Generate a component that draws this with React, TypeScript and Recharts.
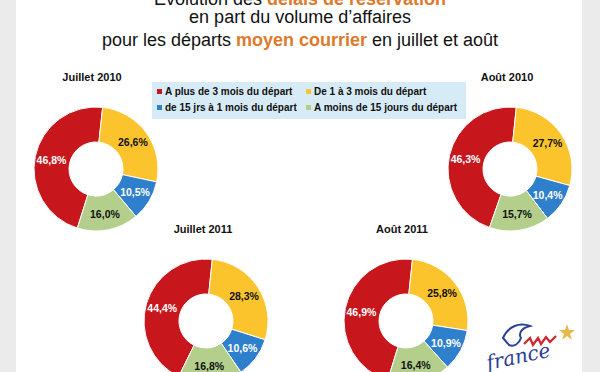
import { PieChart, Pie, Cell } from "recharts";

const categories = [
  "A plus de 3 mois du départ",
  "De 1 à 3 mois du départ",
  "de 15 jrs à 1 mois du départ",
  "A moins de 15 jours du départ",
];
const colors = ["#c8161d", "#fbc42d", "#2f80cc", "#b4cf8b"];
const labelColors = ["#fff", "#111", "#fff", "#111"];

const juillet2010 = [46.8, 26.6, 10.5, 16.0];
const aout2010 = [46.3, 27.7, 10.4, 15.7];
const juillet2011 = [44.4, 28.3, 10.6, 16.8];
const aout2011 = [46.9, 25.8, 10.9, 16.4];

const chartTitles = ["Juillet 2010", "Août 2010", "Juillet 2011", "Août 2011"];

const FONT = "'Liberation Sans', Arial, sans-serif";
const RADIAN = Math.PI / 180;
// angle where the first slice (red) ends, a bit right of 12 o'clock
const BOUNDARY = 84;

const donuts = [
  { title: chartTitles[0], values: juillet2010, cx: 91, cy: 164 },
  { title: chartTitles[1], values: aout2010, cx: 505, cy: 164 },
  { title: chartTitles[2], values: juillet2011, cx: 201, cy: 316 },
  { title: chartTitles[3], values: aout2011, cx: 401, cy: 316 },
];

const fmt = (v: number) => v.toFixed(1).replace(".", ",") + "%";

const renderLabel = (props: any) => {
  const { cx, cy, midAngle, innerRadius, outerRadius, value, index } = props;
  const r = (innerRadius + outerRadius) / 2 + 1;
  const x = cx + r * Math.cos(-midAngle * RADIAN);
  const y = cy + r * Math.sin(-midAngle * RADIAN);
  return (
    <text
      x={x}
      y={y}
      textAnchor="middle"
      dominantBaseline="central"
      fill={labelColors[index]}
      fontFamily={FONT}
      fontWeight="bold"
      fontSize={10.5}
    >
      {fmt(value)}
    </text>
  );
};

export default function App() {
  return (
    <div
      style={{
        position: "absolute",
        left: 0,
        top: 0,
        width: 600,
        height: 372,
        background: "#fff",
        overflow: "hidden",
        fontFamily: FONT,
      }}
    >
      <div style={{ position: "absolute", left: 0, top: 0, width: 16, height: 372, background: "#ebebeb" }} />
      <div style={{ position: "absolute", left: 582, top: 0, width: 18, height: 372, background: "#ebebeb" }} />

      {/* legend box */}
      <div
        style={{
          position: "absolute",
          left: 152,
          top: 82,
          width: 314,
          height: 37,
          background: "#d7ebf6",
        }}
      />
      {categories.map((c, i) => (
        <div
          key={c}
          style={{
            position: "absolute",
            left: i % 2 === 0 ? 157 : 306,
            top: i < 2 ? 86 : 102,
            fontSize: 10,
            fontWeight: "bold",
            lineHeight: "12px",
            color: "#111",
            whiteSpace: "nowrap",
          }}
        >
          <span
            style={{
              display: "inline-block",
              width: 5,
              height: 5,
              background: colors[i],
              marginRight: 3,
              verticalAlign: "1px",
            }}
          />
          {c}
        </div>
      ))}

      <div style={{ position: "absolute", left: 0, top: 0 }}>
        <PieChart width={600} height={372}>
          {donuts.map((d) => {
            const data = categories.map((name, i) => ({ name, value: d.values[i] }));
            const start = BOUNDARY + d.values[0] * 3.6;
            return (
              <Pie
                key={d.title}
                data={data}
                dataKey="value"
                cx={d.cx}
                cy={d.cy}
                innerRadius={27}
                outerRadius={62}
                startAngle={start}
                endAngle={start - 360}
                stroke="#fff"
                strokeWidth={1}
                label={renderLabel}
                labelLine={false}
                isAnimationActive={false}
              >
                {data.map((_, i) => (
                  <Cell key={i} fill={colors[i]} />
                ))}
              </Pie>
            );
          })}
        </PieChart>
      </div>

      <svg
        width={600}
        height={372}
        style={{ position: "absolute", left: 0, top: 0, pointerEvents: "none" }}
        fontFamily={FONT}
      >
        <text x={300} y={5} textAnchor="middle" fontSize={18} fill="#111">
          Évolution des{" "}
          <tspan fill="#dd7a2c" fontWeight="bold">délais de réservation</tspan>
        </text>
        <text x={300} y={23} textAnchor="middle" fontSize={18} fill="#111">
          en part du volume d’affaires
        </text>
        <text x={300} y={46} textAnchor="middle" fontSize={18} fill="#111">
          pour les départs{" "}
          <tspan fill="#dd7a2c" fontWeight="bold">moyen courrier</tspan> en juillet et août
        </text>

        <text x={92} y={81} textAnchor="middle" fontSize={11} fontWeight="bold" fill="#111">
          {chartTitles[0]}
        </text>
        <text x={507} y={81} textAnchor="middle" fontSize={11} fontWeight="bold" fill="#111">
          {chartTitles[1]}
        </text>
        <text x={203} y={233} textAnchor="middle" fontSize={11} fontWeight="bold" fill="#111">
          {chartTitles[2]}
        </text>
        <text x={402} y={233} textAnchor="middle" fontSize={11} fontWeight="bold" fill="#111">
          {chartTitles[3]}
        </text>

        {/* rough France logo */}
        <path
          d="M503 338 C508 326 520 322 530 326 C522 328 518 333 521 338 C519 344 514 347 509 345 Z"
          fill="none"
          stroke="#2b3f99"
          strokeWidth={2}
        />
        <path
          d="M524 344 L530 338 L533 345 L538 338 L541 344 L546 337 L550 342 L556 336"
          fill="none"
          stroke="#d3262c"
          strokeWidth={2.2}
        />
        <polygon
          points="567,324 569,330 575,330 570,334 572,340 567,336 562,340 564,334 559,330 565,330"
          fill="#e6b94a"
        />
        <text
          x={488}
          y={370}
          fontSize={20}
          fontStyle="italic"
          fill="#2b3f99"
          fontFamily="'DejaVu Serif', serif"
          transform="rotate(-12 488 370)"
        >
          france
        </text>
      </svg>
    </div>
  );
}
